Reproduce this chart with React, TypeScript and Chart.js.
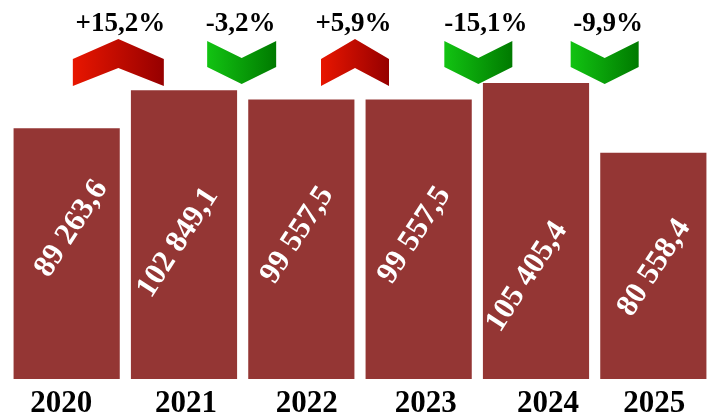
import React, { useEffect, useRef } from "react";
import { Chart, registerables } from "chart.js";

Chart.register(...registerables);

// ---- data ----
const years = ["2020", "2021", "2022", "2023", "2024", "2025"];
const values = [89263.6, 102849.1, 99557.5, 99557.5, 105405.4, 80558.4];
const valueLabels = ["89 263,6", "102 849,1", "99 557,5", "99 557,5", "105 405,4", "80 558,4"];
const changeLabels = ["+15,2%", "-3,2%", "+5,9%", "-15,1%", "-9,9%"];
const changeUp = [true, false, true, false, false];

// ---- styling ----
const BAR_COLOR = "#943634";
const SERIF = "'Liberation Serif', 'Times New Roman', serif";
const labelShiftX = [5, -6, -4, -4, -9, 1];
const labelShiftY = [-25, 8, -4, -4, 46, 2];
const arrowShiftX = [-7, -1, -5, 1, 10];
const arrowWidth = [91, 69, 68, 68, 68];
const pctShiftX = [2, -1, -1.5, 7.5, 3.5];
const yearShiftX = [-5.5, 2, 5.5, 7, 12, 1];

const overlayPlugin = {
  id: "overlay",
  afterDatasetsDraw(chart: any) {
    const ctx = chart.ctx as CanvasRenderingContext2D;
    const meta = chart.getDatasetMeta(0);
    const xs = chart.scales.x;

    // value labels inside the bars
    ctx.save();
    ctx.fillStyle = "#ffffff";
    ctx.font = `bold 31px ${SERIF}`;
    ctx.textAlign = "center";
    ctx.textBaseline = "middle";
    meta.data.forEach((bar: any, i: number) => {
      const cx = bar.x + labelShiftX[i];
      const cy = (bar.y + bar.base) / 2 + labelShiftY[i];
      ctx.save();
      ctx.translate(cx, cy);
      ctx.rotate((-57 * Math.PI) / 180);
      ctx.fillText(valueLabels[i], 0, 0);
      ctx.restore();
    });
    ctx.restore();

    // year labels under the bars (positioned from the category scale)
    ctx.save();
    ctx.fillStyle = "#000000";
    ctx.font = `bold 31px ${SERIF}`;
    ctx.textAlign = "center";
    ctx.textBaseline = "alphabetic";
    years.forEach((y, i) => {
      ctx.fillText(y, xs.getPixelForValue(i) + yearShiftX[i], xs.top + 33);
    });
    ctx.restore();

    // change arrows + percentages
    const top = chart.chartArea.top;
    changeLabels.forEach((txt, i) => {
      const mid = (xs.getPixelForValue(i) + xs.getPixelForValue(i + 1)) / 2 + arrowShiftX[i];
      const w = arrowWidth[i];
      const l = mid - w / 2;
      const r = mid + w / 2;
      ctx.save();
      ctx.beginPath();
      const grad: CanvasGradient = ctx.createLinearGradient(l, 0, r, 0);
      if (changeUp[i]) {
        grad.addColorStop(0, "#e81600");
        grad.addColorStop(1, "#960000");
        ctx.moveTo(l, top + 44);
        ctx.lineTo(l, top + 17);
        ctx.lineTo(mid, top - 3);
        ctx.lineTo(r, top + 17);
        ctx.lineTo(r, top + 44);
        ctx.lineTo(mid, top + 26);
      } else {
        grad.addColorStop(0, "#12c312");
        grad.addColorStop(1, "#007a00");
        ctx.moveTo(l, top - 1);
        ctx.lineTo(mid, top + 16);
        ctx.lineTo(r, top - 1);
        ctx.lineTo(r, top + 25);
        ctx.lineTo(mid, top + 42);
        ctx.lineTo(l, top + 25);
      }
      ctx.closePath();
      ctx.fillStyle = grad;
      ctx.fill();
      ctx.restore();

      ctx.save();
      ctx.fillStyle = "#000000";
      ctx.font = `bold 27px ${SERIF}`;
      ctx.textAlign = "center";
      ctx.textBaseline = "alphabetic";
      ctx.fillText(txt, mid + pctShiftX[i], 30.5);
      ctx.restore();
    });
  },
};

export default function App() {
  const ref = useRef<HTMLCanvasElement | null>(null);

  useEffect(() => {
    if (!ref.current) return;
    const chart = new Chart(ref.current, {
      type: "bar",
      data: {
        labels: years,
        datasets: [
          {
            data: values,
            backgroundColor: BAR_COLOR,
            borderWidth: 0,
            categoryPercentage: 1,
            barPercentage: 0.905,
          },
        ],
      },
      options: {
        animation: false,
        responsive: false,
        layout: { padding: { top: 42, left: 8, right: 2, bottom: -6 } },
        plugins: {
          legend: { display: false },
          title: { display: false },
          tooltip: { enabled: false },
        },
        scales: {
          x: {
            grid: { display: false, drawTicks: false },
            border: { display: false },
            ticks: {
              color: "rgba(0,0,0,0)",
              padding: 7,
              font: { family: SERIF, size: 31, weight: "bold", lineHeight: 1 },
            },
          },
          y: {
            display: false,
            min: 0,
            max: 120000,
          },
        },
      },
      plugins: [overlayPlugin],
    });
    return () => chart.destroy();
  }, []);

  return (
    <div style={{ position: "absolute", left: 0, top: 0, width: 714, height: 418, background: "#fff" }}>
      <canvas ref={ref} width={714} height={418} style={{ display: "block" }} />
    </div>
  );
}
